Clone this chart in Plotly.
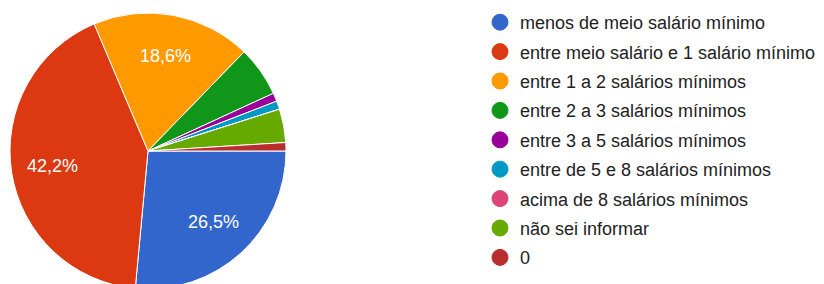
import math
import plotly.graph_objects as go

categories = [
    "menos de meio salário mínimo",
    "entre meio salário e 1 salário mínimo",
    "entre 1 a 2 salários mínimos",
    "entre 2 a 3 salários mínimos",
    "entre 3 a 5 salários mínimos",
    "entre de 5 e 8 salários mínimos",
    "acima de 8 salários mínimos",
    "não sei informar",
    "0",
]
counts = [27, 43, 19, 6, 1, 1, 0, 4, 1]
colors = ["#3366cc", "#dc3912", "#ff9900", "#109618", "#990099",
          "#0099c6", "#dd4477", "#66aa00", "#b82e2e"]

total = sum(counts)
W, H = 824, 290          # page is cropped to 284 px, pie runs off the bottom
cx, cy, r = 148, 151, 138

fig = go.Figure()
fig.add_trace(go.Pie(
    labels=categories, values=counts, sort=False, direction="clockwise",
    rotation=90, marker=dict(colors=colors, line=dict(color="white", width=1)),
    textinfo="none", showlegend=False, hoverinfo="label+percent",
    domain=dict(x=[(cx - r) / W, (cx + r) / W], y=[(H - cy - r) / H, (H - cy + r) / H]),
))

# percentage labels for the large slices, placed at 0.7 r on each slice bisector
start = 90.0
for c in counts:
    p = 100 * c / total
    sweep = 360 * c / total
    if p >= 10:
        mid = math.radians(start + sweep / 2)
        d = 0.7 * r
        px = cx + d * math.sin(mid)
        py = cy - d * math.cos(mid)
        fig.add_annotation(
            x=px / W, y=1 - py / H, xref="paper", yref="paper",
            text=f"{p:.1f}%".replace(".", ","), showarrow=False,
            xanchor="center", yanchor="middle",
            font=dict(color="white", size=18, family="Liberation Sans, Arial"),
        )
    start += sweep

for i, (name, col) in enumerate(zip(categories, colors)):
    fig.add_trace(go.Scatter(
        x=[None], y=[None], mode="markers", name=name, legendgroup=f"g{i}",
        marker=dict(symbol="circle", size=16, color=col, line=dict(color=col, width=1)),
    ))

fig.update_layout(
    width=W, height=H, margin=dict(l=0, r=0, t=0, b=0),
    paper_bgcolor="white", plot_bgcolor="white",
    xaxis=dict(visible=False), yaxis=dict(visible=False),
    legend=dict(x=480 / W, y=1 - 4 / H, xanchor="left", yanchor="top",
                font=dict(size=18, color="#222222", family="Liberation Sans, Arial"),
                traceorder="grouped", tracegroupgap=3, itemwidth=30,
                bgcolor="rgba(0,0,0,0)"),
)
fig.write_html(
    "out.html",
    config={"displayModeBar": False},
    post_script="document.body.style.margin='0';"
                "document.body.style.overflow='hidden';"
                "document.documentElement.style.overflow='hidden';",
)
